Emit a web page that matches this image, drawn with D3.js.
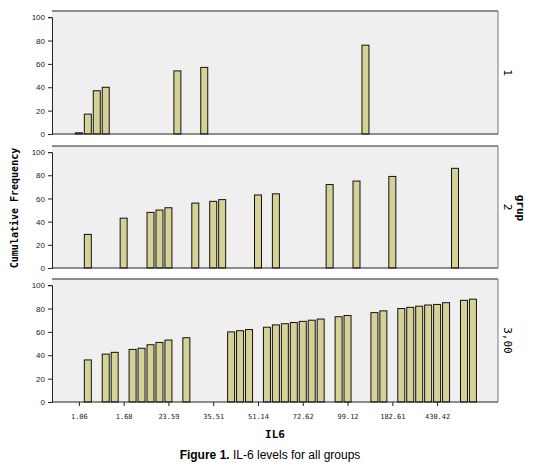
<!DOCTYPE html><html><head><meta charset="utf-8">
<script src="https://cdn.jsdelivr.net/npm/d3@7"></script>
<style>body{margin:0;background:#fff}</style></head><body>
<script>
const groups = ["1","2","3,00"];
const tickLabels = ["1.06","1.68","23.59","35.51","51.14","72.62","99.12","182.61","430.42"];
const tickSlots = [0,5,10,15,20,25,30,35,40];
const slots1 = [0,1,2,3,11,14,32];
const vals1 = [1,17,37,40,54,57,76];
const slots2 = [1,5,8,9,10,13,15,16,20,22,28,31,35,42];
const vals2 = [29,43,48,50,52,56,57.5,59,63,64,72,75,79,86];
const slots3 = [1,3,4,6,7,8,9,10,12,17,18,19,21,22,23,24,25,26,27,29,30,33,34,36,37,38,39,40,41,43,44];
const vals3 = [36,41,42.5,45,46,49,51,53,55,60,61,62,64,66,67,68,69,70,71,73,74,76.5,78,80,81,82,83,83.5,85,87,88];
const yTicks = [0,20,40,60,80,100];

const W=540,H=467;
const svg=d3.select("body").append("svg").attr("width",W).attr("height",H);
const x=d3.scaleLinear().domain([-3,46.8]).range([52,498]);
const panels=[{top:11,bot:134,s:slots1,v:vals1},{top:146,bot:268,s:slots2,v:vals2},{top:279,bot:402,s:slots3,v:vals3}];
const mono="'DejaVu Sans Mono','Liberation Mono',monospace";
panels.forEach((p,i)=>{
  const y=d3.scaleLinear().domain([0,100]).range([p.bot,p.bot-(p.bot-p.top)*0.95]);
  const g=svg.append("g");
  g.append("rect").attr("x",52).attr("y",p.top).attr("width",446).attr("height",p.bot-p.top).attr("fill","#efefef");
  g.append("line").attr("x1",52).attr("x2",498).attr("y1",p.top).attr("y2",p.top).attr("stroke","#222");
  g.append("line").attr("x1",498).attr("x2",498).attr("y1",p.top).attr("y2",p.bot).attr("stroke","#777");
  g.selectAll(".b").data(p.s.map((s,k)=>({s,v:p.v[k]}))).join("rect")
   .attr("x",d=>x(d.s)-3.5).attr("width",7).attr("y",d=>y(d.v)).attr("height",d=>p.bot-y(d.v))
   .attr("fill","#d6d296").attr("stroke","#111").attr("stroke-width",1);
  const ax=g.append("g").attr("transform","translate(52,0)").call(d3.axisLeft(y).tickValues(yTicks).tickSize(4).tickFormat(d3.format("d")));
  ax.selectAll("text").attr("font-family","Arial").attr("font-size",8).attr("fill","#222");
  ax.selectAll("line,path").attr("stroke","#222");
  g.append("line").attr("x1",52).attr("x2",498).attr("y1",p.bot).attr("y2",p.bot).attr("stroke","#222");
  g.append("text").attr("transform",`translate(504,${(p.top+p.bot)/2}) rotate(90)`).attr("text-anchor","middle")
   .attr("font-family",mono).attr("font-size",11).text(groups[i]);
});
const xa=svg.append("g").attr("transform","translate(0,402)").call(d3.axisBottom(x).tickValues(tickSlots).tickSize(4).tickFormat((d,i)=>tickLabels[i]));
xa.select("path").remove();
xa.selectAll("line").attr("stroke","#222");
xa.selectAll("text").attr("font-family",mono).attr("font-size",7).attr("dy","1.4em").attr("fill","#222");
svg.append("text").attr("transform","translate(517,208) rotate(90)").attr("text-anchor","middle").attr("font-family",mono).attr("font-weight","bold").attr("font-size",11).text("grup");
svg.append("text").attr("transform","translate(18,208) rotate(-90)").attr("text-anchor","middle").attr("font-family",mono).attr("font-weight","bold").attr("font-size",10).text("Cumulative Frequency");
svg.append("text").attr("x",275).attr("y",438).attr("text-anchor","middle").attr("font-family",mono).attr("font-weight","bold").attr("font-size",11).text("IL6");
const cap=svg.append("text").attr("x",270).attr("y",459).attr("text-anchor","middle").attr("font-family","Arial, 'Liberation Sans'").attr("font-size",12);
cap.append("tspan").attr("font-weight","bold").text("Figure 1.");
cap.append("tspan").text(" IL-6 levels for all groups");
</script></body></html>
